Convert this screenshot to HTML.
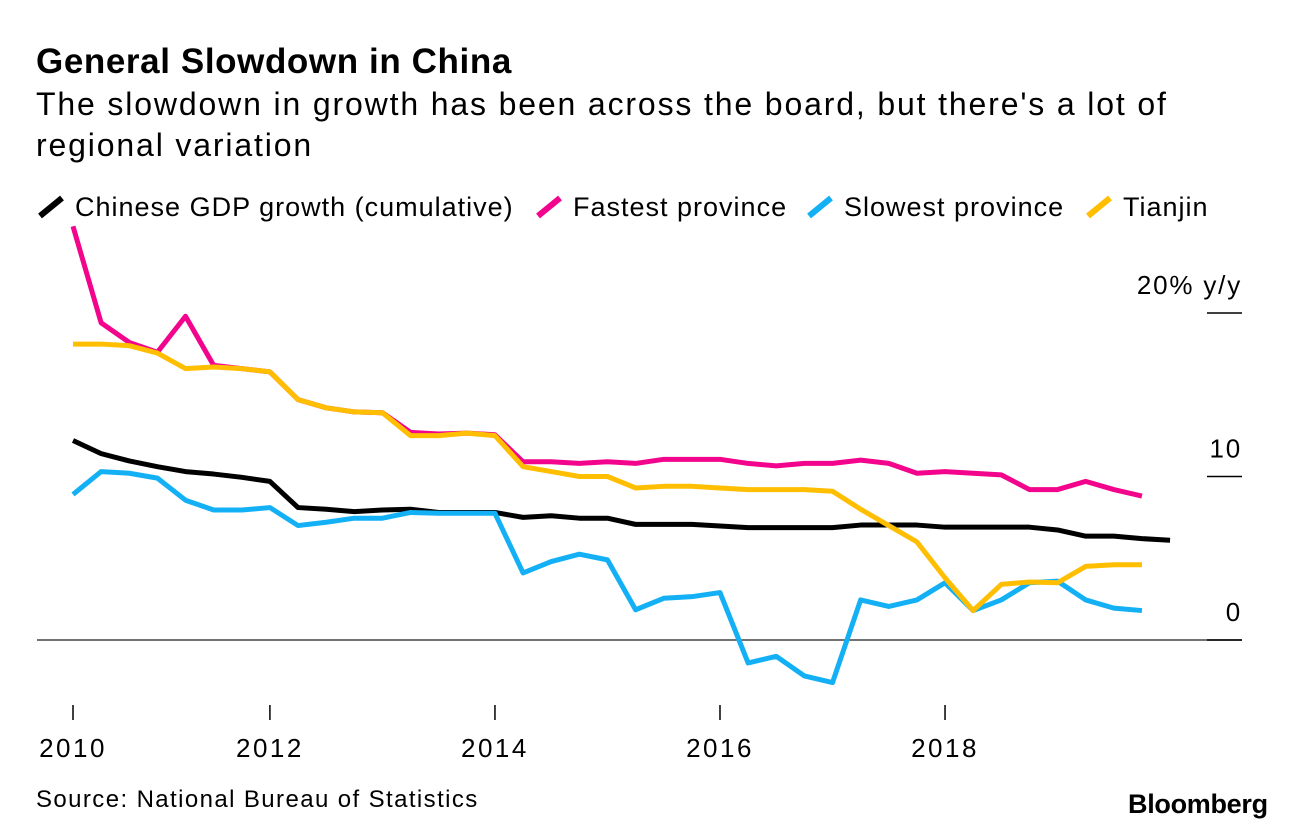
<!DOCTYPE html>
<html><head><meta charset="utf-8"><style>
body{margin:0;background:#fff;width:1296px;height:832px;overflow:hidden;font-family:"Liberation Sans",Arial,sans-serif;}
.t{position:absolute;white-space:nowrap;color:#000}
</style></head><body>
<div class="t" style="left:36px;top:42px;font-size:35px;font-weight:bold;letter-spacing:0.6px">General Slowdown in China</div>
<div class="t" style="left:36px;top:84px;font-size:32px;letter-spacing:1.85px;line-height:41px;white-space:normal;width:1200px">The slowdown in growth has been across the board, but there's a lot of regional variation</div>
<svg id="chart" width="1296" height="832" style="position:absolute;left:0;top:0" font-family="Liberation Sans, Arial, sans-serif"></svg>
<div class="t" style="left:36px;top:786px;font-size:24px;letter-spacing:1.4px">Source: National Bureau of Statistics</div>
<div class="t" style="left:1128px;top:789px;font-size:27px;font-weight:bold;letter-spacing:-0.3px">Bloomberg</div>
<script>
const tickIdx=[0,7,15,23,31];
const tickLabels=["2010","2012","2014","2016","2018"];
const yTicks=[0,10,20];
const yTickLabels=["0","10","20% y/y"];
const gdp=[12.2,11.4,10.95,10.6,10.3,10.15,9.95,9.7,8.1,8.0,7.85,7.95,8.0,7.8,7.8,7.8,7.5,7.6,7.45,7.45,7.07,7.07,7.07,6.97,6.87,6.87,6.87,6.87,7.03,7.03,7.03,6.9,6.9,6.9,6.9,6.73,6.35,6.35,6.2,6.1];
const fastest=[25.3,19.4,18.2,17.6,19.8,16.8,16.6,16.4,14.7,14.2,13.95,13.9,12.7,12.6,12.65,12.55,10.9,10.9,10.8,10.9,10.8,11.05,11.05,11.05,10.8,10.65,10.8,10.8,11.0,10.8,10.2,10.3,10.2,10.1,9.2,9.2,9.7,9.2,8.8];
const slowest=[8.9,10.3,10.2,9.9,8.55,7.95,7.95,8.1,7.0,7.2,7.45,7.45,7.8,7.75,7.75,7.75,4.1,4.8,5.25,4.9,1.85,2.55,2.65,2.9,-1.4,-1.0,-2.2,-2.6,2.45,2.05,2.45,3.5,1.8,2.45,3.5,3.6,2.45,1.95,1.8];
const tianjin=[18.1,18.1,18.0,17.55,16.6,16.7,16.6,16.4,14.7,14.2,13.95,13.9,12.5,12.5,12.65,12.5,10.6,10.3,10.0,10.0,9.3,9.4,9.4,9.3,9.2,9.2,9.2,9.1,8.0,7.0,6.0,3.8,1.8,3.4,3.55,3.5,4.5,4.6,4.6];
const names=["Chinese GDP growth (cumulative)","Fastest province","Slowest province","Tianjin"];
const colors=["#000000","#f2048c","#13b0f5","#ffbe00"];
const NS="http://www.w3.org/2000/svg";
const svg=document.getElementById('chart');
const x=i=>73+i*28.13;
const y=v=>640-v*16.35;
function mk(t,a){const e=document.createElementNS(NS,t);for(const k in a)e.setAttribute(k,a[k]);svg.appendChild(e);return e;}
let zl=mk('line',{x1:37,x2:1242,y1:y(0),y2:y(0),stroke:'#444','stroke-width':1.5});


yTicks.forEach((v,k)=>{
  let tl=mk('line',{x1:1207,x2:1242,y1:y(v),y2:y(v),stroke:'#000','stroke-width':1.5});
  
  
  let tx=mk('text',{x:1242,y:y(v)-19,'text-anchor':'end','font-size':26,'letter-spacing':1.8});
  tx.textContent=yTickLabels[k];
  
  
});
tickIdx.forEach((i,k)=>{
  let tl=mk('line',{x1:x(i),x2:x(i),y1:705,y2:720,stroke:'#000','stroke-width':1.5});
  
  
  let tx=mk('text',{x:x(i),y:757,'text-anchor':'middle','font-size':26,'letter-spacing':2.5});
  tx.textContent=tickLabels[k];
  
  
});
const series=[gdp,slowest,fastest,tianjin];
const sc=[colors[0],colors[2],colors[1],colors[3]];
const sn=['gdp-line','slowest-line','fastest-line','tianjin-line'];
series.forEach((s,k)=>{
  let p=mk('polyline',{points:s.map((v,i)=>x(i)+','+y(v)).join(' '),fill:'none',stroke:sc[k],'stroke-width':5,'stroke-linejoin':'round'});
  
  
});
const lx=[40,538,809,1088];
names.forEach((n,k)=>{
  let m=mk('line',{x1:lx[k],y1:216,x2:lx[k]+22,y2:198,stroke:colors[k],'stroke-width':6});
  
  
  let t=mk('text',{x:lx[k]+35,y:216,'font-size':27,'letter-spacing':1});
  t.textContent=n;
  
  
});
</script>
</body></html>
